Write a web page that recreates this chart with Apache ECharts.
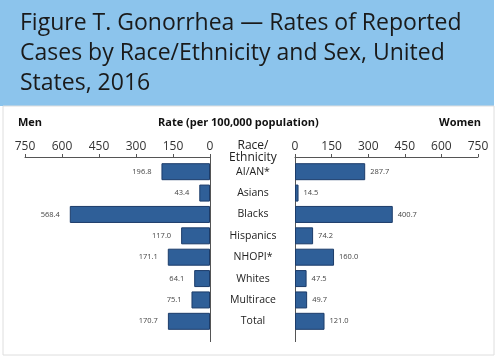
<!DOCTYPE html>
<html><head><meta charset="utf-8">
<script src="https://cdn.jsdelivr.net/npm/echarts@6/dist/echarts.min.js"></script>
<style>html,body{margin:0;padding:0;background:#fff}#c{width:497px;height:360px}</style>
</head><body><div id="c"></div>
<script>
const titleText = 'Figure T. Gonorrhea — Rates of Reported\nCases by Race/Ethnicity and Sex, United\nStates, 2016';
const categories = ['AI/AN*','Asians','Blacks','Hispanics','NHOPI*','Whites','Multirace','Total'];
const men = [196.8, 43.4, 568.4, 117.0, 171.1, 64.1, 75.1, 170.7];
const women = [287.7, 14.5, 400.7, 74.2, 160.0, 47.5, 49.7, 121.0];
const ticks = [0,150,300,450,600,750];

const chart = echarts.init(document.getElementById('c'));
const barColor = '#2f5f98';
const barBorder = '#1c3c6a';
const axisCol = '#555';
const font = 'Open Sans';
const xCommon = {
  type:'value', min:0, max:750, interval:150, position:'top', offset:4,
  axisLine:{show:true, lineStyle:{color:axisCol,width:1}},
  axisTick:{show:true, length:3, lineStyle:{color:axisCol}},
  axisLabel:{color:'#333', fontSize:12, fontFamily:font, margin:4},
  splitLine:{show:false}
};
chart.setOption({
  animation:false,
  graphic:[
    {type:'rect', shape:{x:0,y:0,width:494,height:106}, style:{fill:'#8cc4ec'}},
    {type:'rect', shape:{x:3,y:106,width:491,height:249}, style:{fill:'none',stroke:'#dedede',lineWidth:1}},
    {type:'text', left:20, top:8, style:{text:titleText, font:'23px "Open Sans"', fill:'#1a1a1a', lineHeight:30}},
    {type:'text', left:18, top:117, style:{text:'Men', font:'bold 11px "Open Sans"', fill:'#111'}},
    {type:'text', left:158, top:117, style:{text:'Rate (per 100,000 population)', font:'bold 11px "Open Sans"', fill:'#111'}},
    {type:'text', left:439, top:117, style:{text:'Women', font:'bold 11px "Open Sans"', fill:'#111'}},
    {type:'text', x:253, y:140, style:{text:'Race/\nEthnicity', font:'12px "Open Sans"', fill:'#222', align:'center', lineHeight:12}},
    {type:'line', shape:{x1:210.5,y1:157,x2:210.5,y2:342}, style:{stroke:axisCol,lineWidth:1}},
    {type:'line', shape:{x1:295.5,y1:157,x2:295.5,y2:342}, style:{stroke:axisCol,lineWidth:1}}
  ],
  grid:[
    {left:25, width:185, top:161, height:171},
    {left:295, width:183, top:161, height:171}
  ],
  xAxis:[
    Object.assign({}, xCommon, {gridIndex:0, inverse:true}),
    Object.assign({}, xCommon, {gridIndex:1})
  ],
  yAxis:[
    {type:'category', gridIndex:0, data:categories, inverse:true, position:'right',
     axisLine:{show:false}, axisTick:{show:false}, axisLabel:{show:false}},
    {type:'category', gridIndex:1, data:categories, inverse:true, position:'left',
     axisLine:{show:false}, axisTick:{show:false},
     axisLabel:{show:true, color:'#222', fontSize:10.5, fontFamily:font, align:'center', margin:42}}
  ],
  series:[
    {type:'bar', xAxisIndex:0, yAxisIndex:0, data:men, barWidth:17,
     itemStyle:{color:barColor, borderColor:barBorder, borderWidth:1},
     label:{show:true, position:'left', distance:10, fontSize:7.5, color:'#444', fontFamily:font,
       formatter:p=>p.value.toFixed(1)}},
    {type:'bar', xAxisIndex:1, yAxisIndex:1, data:women, barWidth:17,
     itemStyle:{color:barColor, borderColor:barBorder, borderWidth:1},
     label:{show:true, position:'right', distance:5, fontSize:7.5, color:'#444', fontFamily:font,
       formatter:p=>p.value.toFixed(1)}}
  ]
});
</script></body></html>
